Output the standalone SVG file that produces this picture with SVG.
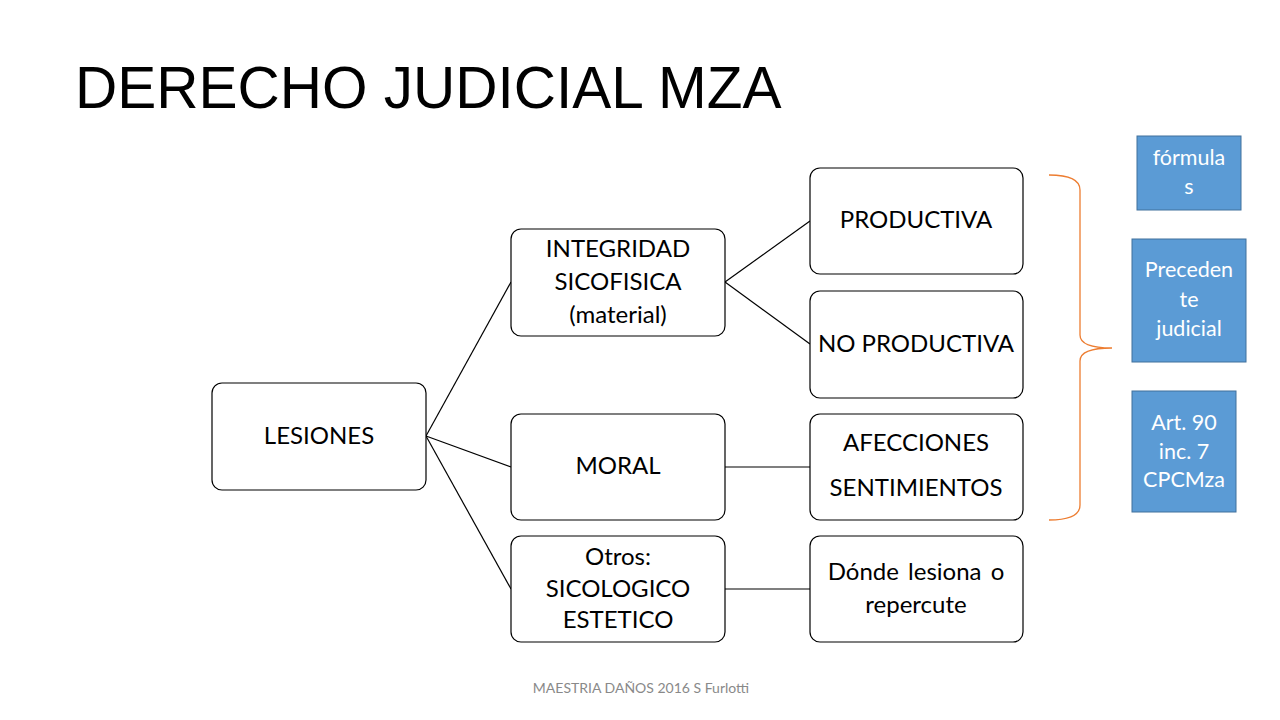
<svg xmlns="http://www.w3.org/2000/svg" width="1280" height="720" viewBox="0 0 1280 720">
<style>
.node{fill:#fff;stroke:#000;stroke-width:1.2}
.t{font-family:Lato,"Open Sans","Liberation Sans",sans-serif;font-size:24px;fill:#000;text-anchor:middle}
.b{fill:#5B9BD5;stroke:#41719C;stroke-width:1}
.w{font-family:Lato,"Open Sans","Liberation Sans",sans-serif;font-size:21.5px;fill:#fff;text-anchor:middle}
.c{stroke:#000;stroke-width:1.2;fill:none}
</style>
<rect width="1280" height="720" fill="#fff"/>
<text x="75" y="108" font-family="'Liberation Sans',Arial,sans-serif" font-size="58.5" fill="#000">DERECHO JUDICIAL MZA</text>
<g id="connectors">
<line class="c" x1="426" y1="436" x2="511" y2="282"/>
<line class="c" x1="426" y1="436" x2="511" y2="467"/>
<line class="c" x1="426" y1="436" x2="511" y2="589"/>
<line class="c" x1="725" y1="282" x2="810" y2="221"/>
<line class="c" x1="725" y1="282" x2="810" y2="344"/>
<line class="c" x1="725" y1="467" x2="810" y2="467"/>
<line class="c" x1="725" y1="589" x2="810" y2="589"/>
</g>
<g id="lesiones"><rect class="node" x="212" y="383" width="214" height="107" rx="10"/><text class="t" x="319" y="444">LESIONES</text></g>
<g id="integridad"><rect class="node" x="511" y="229" width="214" height="107" rx="10"/><text class="t" x="618" y="257">INTEGRIDAD</text><text class="t" x="618" y="290">SICOFISICA</text><text class="t" x="618" y="323">(material)</text></g>
<g id="moral"><rect class="node" x="511" y="414" width="214" height="106" rx="10"/><text class="t" x="618" y="474">MORAL</text></g>
<g id="otros"><rect class="node" x="511" y="536" width="214" height="106" rx="10"/><text class="t" x="618" y="565">Otros:</text><text class="t" x="618" y="597">SICOLOGICO</text><text class="t" x="618" y="628">ESTETICO</text></g>
<g id="productiva"><rect class="node" x="810" y="168" width="213" height="106" rx="10"/><text class="t" x="916" y="228">PRODUCTIVA</text></g>
<g id="noproductiva"><rect class="node" x="810" y="291" width="213" height="107" rx="10"/><text class="t" x="916" y="352">NO PRODUCTIVA</text></g>
<g id="afecciones"><rect class="node" x="810" y="414" width="213" height="106" rx="10"/><text class="t" x="916" y="451">AFECCIONES</text><text class="t" x="916" y="496">SENTIMIENTOS</text></g>
<g id="donde"><rect class="node" x="810" y="536" width="213" height="106" rx="10"/><text class="t" x="916" y="580" word-spacing="3">Dónde lesiona o</text><text class="t" x="916" y="613">repercute</text></g>
<g id="brace"><path d="M1049,175 Q1080,175 1080,190 L1080,335 Q1080,348 1112,348 Q1080,348 1080,361 L1080,505 Q1080,520 1049,520" fill="none" stroke="#ED7D31" stroke-width="1.3"/></g>
<g id="formulas"><rect class="b" x="1137" y="136" width="104" height="74"/><text class="w" x="1189" y="165">fórmula</text><text class="w" x="1189" y="194">s</text></g>
<g id="precedente"><rect class="b" x="1132" y="239" width="114" height="123"/><text class="w" x="1189" y="277">Preceden</text><text class="w" x="1189" y="307">te</text><text class="w" x="1189" y="336">judicial</text></g>
<g id="art90"><rect class="b" x="1132" y="391" width="104" height="121"/><text class="w" x="1184" y="430">Art. 90</text><text class="w" x="1184" y="459">inc. 7</text><text class="w" x="1184" y="487">CPCMza</text></g>
<text x="641" y="693" font-family="Lato,'Open Sans',sans-serif" font-size="14" fill="#898989" text-anchor="middle">MAESTRIA DAÑOS 2016 S Furlotti</text>
</svg>
